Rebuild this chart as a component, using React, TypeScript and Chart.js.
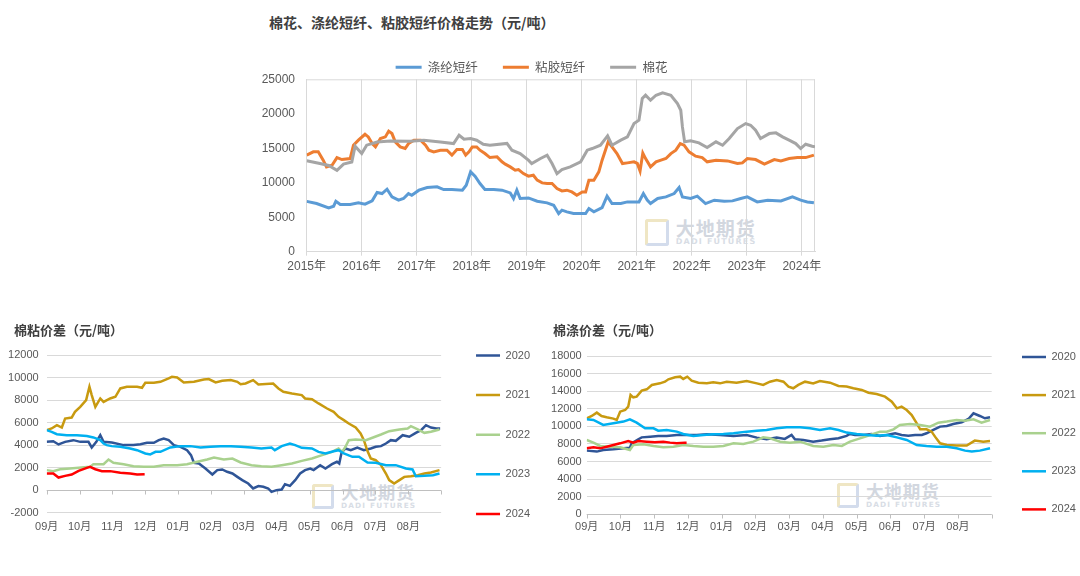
import React, { useEffect, useRef } from 'react';
import { Chart, registerables } from 'chart.js';

Chart.register(...registerables);
document.body.style.margin = '0';

const FONT = '"Liberation Sans", "Noto Sans CJK SC", sans-serif';
const CJK = '"Noto Sans CJK SC", "Liberation Sans", sans-serif';
const TICK = '#595959';
const GRID = '#D9D9D9';

// ---------- top chart data ----------
const topTitle = '棉花、涤纶短纤、粘胶短纤价格走势（元/吨）';
const topNames = ['涤纶短纤', '粘胶短纤', '棉花'];
const topColors = ['#5B9BD5', '#ED7D31', '#A5A5A5'];
const yearStart = 2015;
const yearEnd = 2024.24;

const polyester: [number, number][] = [
  [2015.0, 7300], [2015.18, 6980], [2015.4, 6360], [2015.49, 6600], [2015.53, 7320], [2015.61, 6840],
  [2015.79, 6840], [2015.94, 7080], [2016.06, 6890], [2016.19, 7370], [2016.28, 8580], [2016.37, 8430],
  [2016.46, 9060], [2016.55, 7950], [2016.67, 7470], [2016.76, 7710], [2016.85, 8430], [2016.91, 8190],
  [2017.04, 8920], [2017.19, 9300], [2017.37, 9400], [2017.49, 9010], [2017.64, 9010], [2017.83, 8920],
  [2017.9, 9640], [2017.98, 11580], [2018.06, 10950], [2018.15, 9890], [2018.24, 9010], [2018.4, 9010],
  [2018.55, 8920], [2018.7, 8530], [2018.76, 7710], [2018.82, 8920], [2018.88, 7710], [2019.03, 7800],
  [2019.19, 7320], [2019.37, 7080], [2019.49, 6740], [2019.58, 5530], [2019.64, 6020], [2019.73, 5780],
  [2019.85, 5530], [2019.98, 5530], [2020.07, 5530], [2020.13, 6260], [2020.22, 5780], [2020.37, 6400],
  [2020.46, 8050], [2020.55, 6980], [2020.71, 6980], [2020.83, 7220], [2020.95, 7220], [2021.04, 7220],
  [2021.12, 8430], [2021.19, 7500], [2021.25, 6980], [2021.38, 7710], [2021.53, 7950], [2021.68, 8430],
  [2021.77, 9300], [2021.83, 7950], [2021.98, 7710], [2022.1, 8050], [2022.25, 6980], [2022.41, 7470],
  [2022.59, 7320], [2022.74, 7370], [2022.89, 7710], [2023.01, 7950], [2023.19, 7220], [2023.38, 7470],
  [2023.62, 7370], [2023.83, 7950], [2023.98, 7470], [2024.1, 7220], [2024.22, 7100],
];

const viscose: [number, number][] = [
  [2015.0, 14000], [2015.12, 14480], [2015.21, 14480], [2015.3, 13270], [2015.36, 12300], [2015.46, 12540],
  [2015.55, 13650], [2015.64, 13360], [2015.79, 13510], [2015.85, 15450], [2015.94, 16170], [2016.06, 17030],
  [2016.12, 16650], [2016.19, 15680], [2016.25, 15200], [2016.34, 16410], [2016.43, 16650], [2016.49, 17480],
  [2016.55, 17130], [2016.61, 15930], [2016.7, 15200], [2016.79, 14960], [2016.85, 15680], [2016.95, 16170],
  [2017.07, 16170], [2017.16, 15440], [2017.22, 14720], [2017.31, 14480], [2017.43, 14720], [2017.55, 14720],
  [2017.64, 14000], [2017.73, 14820], [2017.83, 14820], [2017.89, 14000], [2017.95, 14480], [2018.01, 15200],
  [2018.09, 15200], [2018.15, 14720], [2018.24, 14230], [2018.33, 13650], [2018.46, 13750], [2018.55, 13030],
  [2018.61, 12690], [2018.7, 12300], [2018.79, 11820], [2018.85, 11910], [2018.94, 11330], [2019.03, 10950],
  [2019.12, 11090], [2019.19, 10370], [2019.28, 9980], [2019.37, 9890], [2019.46, 9890], [2019.55, 9160],
  [2019.64, 8820], [2019.73, 8920], [2019.82, 8670], [2019.91, 8190], [2020.01, 8670], [2020.07, 8670],
  [2020.13, 10370], [2020.22, 10370], [2020.31, 11580], [2020.37, 13270], [2020.43, 14720], [2020.48, 15930],
  [2020.55, 15200], [2020.64, 14230], [2020.74, 12780], [2020.83, 12880], [2020.95, 13030], [2021.01, 12800],
  [2021.06, 11700], [2021.11, 14300], [2021.16, 13500], [2021.25, 12300], [2021.35, 13030], [2021.44, 13270],
  [2021.53, 13510], [2021.62, 14230], [2021.71, 14720], [2021.79, 15680], [2021.86, 15440], [2021.95, 14480],
  [2022.07, 13850], [2022.19, 13650], [2022.28, 13030], [2022.44, 13270], [2022.65, 13170], [2022.83, 12780],
  [2022.92, 12880], [2023.01, 13510], [2023.16, 13360], [2023.32, 12690], [2023.5, 13360], [2023.62, 13170],
  [2023.77, 13510], [2023.92, 13650], [2024.07, 13650], [2024.22, 14000],
];

const cotton: [number, number][] = [
  [2015.0, 13200], [2015.24, 12780], [2015.4, 12500], [2015.55, 11800], [2015.67, 12700], [2015.82, 13000],
  [2015.88, 15300], [2016.0, 14230], [2016.09, 15450], [2016.28, 15900], [2016.52, 16070], [2016.88, 16020],
  [2017.13, 16170], [2017.43, 15900], [2017.67, 15680], [2017.77, 16890], [2017.86, 16310], [2017.98, 16400],
  [2018.09, 16170], [2018.21, 15590], [2018.33, 15440], [2018.64, 15700], [2018.73, 14720], [2018.88, 14230],
  [2019.03, 13270], [2019.09, 12780], [2019.25, 13510], [2019.37, 14000], [2019.46, 12780], [2019.55, 11330],
  [2019.64, 11900], [2019.79, 12300], [2019.98, 13030], [2020.1, 14720], [2020.19, 14960], [2020.34, 15440],
  [2020.47, 16800], [2020.55, 15440], [2020.71, 16170], [2020.83, 16650], [2020.95, 18580], [2021.04, 19070],
  [2021.1, 22210], [2021.16, 22690], [2021.25, 21970], [2021.35, 22690], [2021.47, 23030], [2021.62, 22690],
  [2021.74, 21480], [2021.8, 20510], [2021.83, 18100], [2021.87, 15930], [2021.98, 16070], [2022.13, 15780],
  [2022.28, 15100], [2022.44, 15930], [2022.56, 15440], [2022.68, 16410], [2022.83, 17860], [2022.98, 18580],
  [2023.07, 18340], [2023.16, 17620], [2023.25, 16410], [2023.41, 17130], [2023.53, 17230], [2023.65, 16650],
  [2023.77, 16170], [2023.89, 15680], [2023.98, 14960], [2024.07, 15590], [2024.19, 15300], [2024.24, 15200],
];

// ---------- bottom charts data (x = months since 1 Sep) ----------
const monthLabels = ['09月', '10月', '11月', '12月', '01月', '02月', '03月', '04月', '05月', '06月', '07月', '08月'];
const seasonNames = ['2020', '2021', '2022', '2023', '2024'];
const seasonColors = ['#2F5597', '#C89A10', '#A9D18E', '#00B0F0', '#FF0000'];

const cvTitle = '棉粘价差（元/吨）';
const cv2020: [number, number][] = [
  [0, 4290], [0.2, 4350], [0.36, 4060], [0.56, 4290], [0.81, 4440], [1.02, 4290], [1.27, 4290], [1.37, 3790],
  [1.51, 4290], [1.63, 4880], [1.73, 4290], [1.98, 4230], [2.34, 4000], [2.64, 4000], [2.85, 4080], [3.05, 4200],
  [3.26, 4200], [3.41, 4440], [3.56, 4590], [3.71, 4440], [3.87, 4000], [4.07, 3850], [4.27, 3550], [4.39, 3110],
  [4.48, 2430], [4.63, 2370], [4.83, 1920], [5.04, 1390], [5.19, 1780], [5.34, 1840], [5.49, 1630], [5.65, 1480],
  [5.8, 1180], [5.95, 890], [6.13, 590], [6.28, 150], [6.44, 360], [6.59, 300], [6.74, 150], [6.84, -150],
  [6.99, 0], [7.15, 60], [7.25, 530], [7.4, 380], [7.56, 890], [7.71, 1480], [7.86, 1780], [8.02, 1920],
  [8.12, 1780], [8.32, 2220], [8.48, 1920], [8.68, 2310], [8.83, 2520], [8.9, 2370], [8.97, 3320], [9.09, 3700],
  [9.25, 3550], [9.45, 3790], [9.65, 3550], [9.86, 3700], [10.01, 3850], [10.17, 3910], [10.32, 4140], [10.47, 4440],
  [10.62, 4380], [10.83, 4880], [11.03, 4740], [11.23, 5090], [11.39, 5330], [11.54, 5770], [11.69, 5560],
  [11.85, 5480], [11.97, 5480],
];
const cv2021: [number, number][] = [
  [0, 5330], [0.15, 5480], [0.31, 5770], [0.46, 5560], [0.56, 6360], [0.76, 6450], [0.86, 6960], [1.02, 7400],
  [1.2, 7990], [1.3, 9180], [1.37, 8440], [1.48, 7400], [1.63, 8140], [1.73, 7840], [1.93, 8140], [2.09, 8290],
  [2.24, 9030], [2.44, 9180], [2.75, 9180], [2.9, 9090], [3.0, 9530], [3.26, 9530], [3.46, 9620], [3.71, 9920],
  [3.81, 10060], [3.97, 10000], [4.17, 9560], [4.48, 9620], [4.78, 9830], [4.93, 9860], [5.14, 9560], [5.34, 9710],
  [5.6, 9770], [5.8, 9620], [5.9, 9410], [6.05, 9470], [6.28, 9770], [6.44, 9380], [6.89, 9470], [7.05, 9030],
  [7.2, 8730], [7.46, 8580], [7.76, 8440], [7.86, 8140], [8.07, 8080], [8.27, 7700], [8.53, 7250], [8.73, 6960],
  [8.88, 6510], [9.04, 6220], [9.19, 5920], [9.4, 5560], [9.55, 5030], [9.65, 4440], [9.75, 3550], [9.86, 2810],
  [10.01, 2660], [10.17, 2220], [10.32, 1480], [10.42, 890], [10.57, 590], [10.73, 890], [10.88, 1180],
  [11.08, 1240], [11.29, 1330], [11.49, 1480], [11.69, 1570], [11.95, 1780],
];
const cv2022: [number, number][] = [
  [0, 1780], [0.2, 1690], [0.41, 1860], [0.71, 1920], [0.97, 1980], [1.32, 2070], [1.42, 2310], [1.73, 2310],
  [1.88, 2720], [2.03, 2430], [2.34, 2310], [2.64, 2130], [2.95, 2070], [3.26, 2070], [3.56, 2220], [3.97, 2220],
  [4.27, 2310], [4.58, 2520], [4.88, 2720], [5.09, 2900], [5.39, 2720], [5.65, 2810], [5.9, 2460], [6.23, 2220],
  [6.53, 2130], [6.84, 2070], [7.15, 2220], [7.46, 2370], [7.76, 2600], [8.07, 2810], [8.38, 3110], [8.68, 3400],
  [8.88, 3700], [8.99, 3400], [9.09, 3850], [9.19, 4440], [9.4, 4500], [9.71, 4440], [9.91, 4650], [10.17, 4940],
  [10.42, 5240], [10.73, 5390], [10.98, 5480], [11.08, 5680], [11.29, 5390], [11.49, 5090], [11.69, 5180],
  [11.95, 5390],
];
const cv2023: [number, number][] = [
  [0, 5330], [0.15, 5180], [0.31, 4970], [0.61, 4880], [0.92, 4880], [1.22, 4800], [1.42, 4680], [1.63, 4440],
  [1.73, 4140], [1.83, 4000], [1.98, 3910], [2.24, 3850], [2.54, 3700], [2.75, 3550], [3.0, 3260], [3.15, 3170],
  [3.31, 3400], [3.46, 3400], [3.76, 3790], [4.07, 3910], [4.37, 3910], [4.68, 3790], [4.98, 3850], [5.29, 3910],
  [5.6, 3910], [5.9, 3850], [6.23, 3790], [6.53, 3700], [6.84, 3790], [6.94, 3550], [7.15, 3910], [7.4, 4140],
  [7.56, 4000], [7.76, 3760], [8.07, 3700], [8.27, 3400], [8.48, 3260], [8.73, 3460], [8.88, 3550], [9.04, 3260],
  [9.3, 2960], [9.5, 2960], [9.76, 2460], [10.01, 2430], [10.32, 2220], [10.62, 2220], [10.93, 1920],
  [11.13, 1840], [11.23, 1240], [11.49, 1270], [11.75, 1330], [11.95, 1480],
];
const cv2024: [number, number][] = [
  [0, 1480], [0.2, 1480], [0.36, 1120], [0.56, 1270], [0.76, 1390], [0.97, 1720], [1.22, 1980], [1.32, 2070],
  [1.48, 1860], [1.68, 1690], [1.93, 1690], [2.24, 1540], [2.54, 1480], [2.75, 1390], [2.98, 1420],
];

const cpTitle = '棉涤价差（元/吨）';
const cp2020: [number, number][] = [
  [0, 7240], [0.3, 7130], [0.49, 7310], [0.79, 7390], [1.09, 7500], [1.28, 7580], [1.33, 8070], [1.53, 8530],
  [1.63, 8750], [1.88, 8830], [2.12, 8910], [2.37, 8910], [2.67, 9020], [2.96, 9020], [3.26, 9020], [3.56, 9100],
  [3.95, 9020], [4.35, 8910], [4.74, 9020], [5.04, 8720], [5.33, 8530], [5.63, 8720], [5.87, 8570], [6.07, 9020],
  [6.17, 8530], [6.42, 8450], [6.71, 8260], [6.96, 8380], [7.21, 8530], [7.46, 8640], [7.7, 8910], [7.8, 9130],
  [7.95, 9020], [8.2, 9020], [8.44, 9130], [8.69, 8910], [8.89, 9020], [9.14, 9210], [9.33, 9020], [9.53, 8940],
  [9.73, 9020], [9.93, 9020], [10.07, 9210], [10.27, 9590], [10.47, 9970], [10.67, 10040], [10.86, 10270],
  [11.11, 10460], [11.31, 10840], [11.46, 11480], [11.65, 11180], [11.8, 10920], [11.95, 11030],
];
const cp2021: [number, number][] = [
  [0, 10920], [0.15, 11180], [0.3, 11560], [0.44, 11180], [0.59, 11030], [0.79, 10880], [0.89, 10730],
  [0.99, 11670], [1.14, 11860], [1.23, 12240], [1.3, 13570], [1.38, 13300], [1.48, 13380], [1.63, 14060],
  [1.78, 14210], [1.93, 14710], [2.17, 14890], [2.32, 15080], [2.42, 15350], [2.62, 15580], [2.77, 15650],
  [2.86, 15390], [2.98, 15650], [3.11, 15200], [3.31, 14970], [3.56, 14890], [3.75, 15010], [3.95, 14890],
  [4.15, 15080], [4.44, 14970], [4.74, 15160], [5.04, 14890], [5.23, 14710], [5.43, 15080], [5.63, 15270],
  [5.83, 15080], [5.98, 14520], [6.12, 14330], [6.27, 14710], [6.47, 15080], [6.71, 14890], [6.91, 15160],
  [7.21, 14970], [7.46, 14600], [7.7, 14520], [7.9, 14330], [8.15, 14140], [8.35, 13830], [8.59, 13680],
  [8.84, 13380], [9.04, 12810], [9.19, 12050], [9.33, 12240], [9.48, 11860], [9.63, 11290], [9.78, 10350],
  [9.88, 9660], [10.07, 9660], [10.22, 9400], [10.32, 8830], [10.47, 8070], [10.67, 7880], [10.96, 7810],
  [11.26, 7810], [11.5, 8380], [11.75, 8260], [11.95, 8340],
];
const cp2022: [number, number][] = [
  [0, 8450], [0.2, 8150], [0.4, 7770], [0.69, 7690], [0.99, 7620], [1.28, 7310], [1.38, 7880], [1.68, 7960],
  [1.98, 7770], [2.27, 7620], [2.57, 7690], [2.86, 7880], [3.16, 7770], [3.46, 7690], [3.75, 7690], [4.05, 7770],
  [4.35, 8070], [4.64, 7990], [4.94, 8260], [5.23, 8750], [5.43, 8640], [5.73, 8260], [6.02, 8150], [6.32, 8260],
  [6.71, 7770], [7.01, 7690], [7.31, 7880], [7.56, 7770], [7.8, 8260], [8.1, 8640], [8.4, 9020], [8.69, 9400],
  [8.89, 9400], [9.09, 9660], [9.28, 10160], [9.58, 10270], [9.88, 10160], [10.17, 9970], [10.42, 10420],
  [10.67, 10540], [10.96, 10730], [11.21, 10650], [11.46, 10800], [11.7, 10420], [11.95, 10730],
];
const cp2023: [number, number][] = [
  [0, 10800], [0.2, 10730], [0.49, 10160], [0.79, 10350], [1.09, 10540], [1.28, 10800], [1.48, 10420],
  [1.73, 9780], [1.98, 9780], [2.12, 9510], [2.37, 9590], [2.67, 9400], [2.86, 9130], [3.16, 8910], [3.46, 9020],
  [3.75, 9100], [4.05, 9130], [4.35, 9210], [4.74, 9400], [5.04, 9510], [5.33, 9590], [5.63, 9780], [5.93, 9890],
  [6.32, 9890], [6.62, 9780], [6.91, 9590], [7.21, 9780], [7.46, 9590], [7.7, 9290], [8.0, 9130], [8.3, 9020],
  [8.59, 8940], [8.89, 9020], [9.19, 8750], [9.48, 8450], [9.78, 7880], [10.07, 7770], [10.37, 7690],
  [10.67, 7690], [10.96, 7500], [11.21, 7240], [11.41, 7130], [11.65, 7240], [11.95, 7500],
];
const cp2024: [number, number][] = [
  [0, 7500], [0.2, 7620], [0.4, 7500], [0.59, 7690], [0.79, 7880], [0.99, 8070], [1.23, 8340], [1.38, 8150],
  [1.53, 8340], [1.78, 8260], [2.02, 8190], [2.27, 8260], [2.47, 8150], [2.67, 8070], [2.91, 8150], [2.96, 8150],
];

const watermarkCn = '大地期货';
const watermarkEn = 'DADI FUTURES';

// ---------- plugins ----------
const framePlugin = {
  id: 'frame',
  beforeDatasetsDraw(chart: any) {
    const { ctx, chartArea: a } = chart;
    ctx.save();
    ctx.strokeStyle = GRID;
    ctx.lineWidth = 1;
    ctx.beginPath();
    ctx.moveTo(a.left, a.top + 0.5);
    ctx.lineTo(a.right, a.top + 0.5);
    ctx.moveTo(a.right - 0.5, a.top);
    ctx.lineTo(a.right - 0.5, a.bottom);
    ctx.stroke();
    ctx.restore();
  },
};

const zeroAxisPlugin = {
  id: 'zeroAxis',
  beforeDatasetsDraw(chart: any) {
    const { ctx } = chart;
    const xs = chart.scales.x;
    const ys = chart.scales.y;
    const y0 = Math.round(ys.getPixelForValue(0)) + 0.5;
    ctx.save();
    ctx.strokeStyle = '#BFBFBF';
    ctx.lineWidth = 1;
    ctx.beginPath();
    ctx.moveTo(xs.left, y0);
    ctx.lineTo(xs.right, y0);
    for (let i = 0; i <= 12; i++) {
      const px = Math.round(xs.getPixelForValue(i)) + 0.5;
      ctx.moveTo(px, y0);
      ctx.lineTo(px, y0 + 4);
    }
    ctx.stroke();
    ctx.restore();
  },
};

// moves the start-aligned title to a given x without shrinking the y axis label area
function titleShiftPlugin(x: number) {
  return {
    id: 'titleShift',
    afterLayout(chart: any) {
      if (chart.titleBlock) chart.titleBlock.left = x;
    },
  };
}

// ---------- configs ----------
function topConfig() {
  const series = [polyester, viscose, cotton];
  return {
    type: 'line',
    data: {
      datasets: series.map((s, i) => ({
        label: topNames[i],
        data: s.map(([x, y]) => ({ x, y })),
        borderColor: topColors[i],
        backgroundColor: topColors[i],
        borderWidth: 3,
        pointRadius: 0,
        tension: 0,
        order: series.length - i,
      })),
    },
    options: {
      responsive: false,
      animation: false,
      layout: { padding: { left: 0, right: 0, top: 36, bottom: 0 } },
      plugins: {
        tooltip: { enabled: false },
        title: { display: false },
        legend: {
          position: 'top',
          align: 'center',
          maxHeight: 43.3,
          labels: {
            usePointStyle: true,
            pointStyle: 'line',
            pointStyleWidth: 26,
            padding: 25,
            color: TICK,
            font: { size: 12.5, family: CJK },
            sort: (a: any, b: any) => a.datasetIndex - b.datasetIndex,
          },
        },
      },
      scales: {
        x: {
          type: 'linear',
          min: yearStart,
          max: yearEnd,
          afterFit: (s: any) => { s.height = 38.3; },
          grid: { color: GRID, drawTicks: true, tickLength: 4 },
          border: { color: GRID },
          ticks: {
            stepSize: 1,
            includeBounds: false,
            autoSkip: false,
            maxRotation: 0,
            padding: 3.8,
            color: TICK,
            font: { size: 12, family: FONT },
            callback: (v: any) => `${v}年`,
          },
        },
        y: {
          min: 0,
          max: 25000,
          afterFit: (s: any) => { s.width = 73.7; },
          grid: { display: false, drawTicks: false },
          border: { display: true, color: GRID },
          ticks: {
            stepSize: 5000,
            padding: 11.7,
            color: TICK,
            font: { size: 12, family: FONT },
            callback: (v: any) => String(v),
          },
        },
        yR: {
          position: 'right',
          grid: { display: false, drawTicks: false },
          border: { display: false },
          ticks: { display: false },
          afterFit: (s: any) => { s.width = 15; },
        },
      },
    },
    plugins: [framePlugin],
  };
}

function spreadConfig(p: {
  title: string; titleX: number; series: [number, number][][]; yMin: number; yMax: number; yStep: number;
  yw: number; tTop: number; tBot: number; legP: number; legW: number;
  gap: number; hx: number; xPad: number; yPad: number;
}) {
  return () => ({
    type: 'line',
    data: {
      datasets: p.series.map((s, i) => ({
        label: seasonNames[i],
        data: s.map(([x, y]) => ({ x, y })),
        borderColor: seasonColors[i],
        backgroundColor: seasonColors[i],
        borderWidth: 2.5,
        pointRadius: 0,
        tension: 0,
        order: p.series.length - i,
      })),
    },
    options: {
      responsive: false,
      animation: false,
      layout: { padding: { left: 0, right: 0, top: 0, bottom: 0 } },
      plugins: {
        tooltip: { enabled: false },
        title: {
          display: true,
          text: p.title,
          align: 'start',
          color: '#404040',
          font: { size: 13, weight: 'bold', family: CJK, lineHeight: 1.2 },
          padding: { top: p.tTop, bottom: p.tBot },
        },
        legend: {
          position: 'right',
          align: 'end',
          maxWidth: p.legW,
          labels: {
            usePointStyle: true,
            pointStyle: 'line',
            pointStyleWidth: 24,
            padding: p.legP,
            color: TICK,
            font: { size: 11, family: FONT },
            sort: (a: any, b: any) => a.datasetIndex - b.datasetIndex,
          },
        },
      },
      scales: {
        x: {
          type: 'linear',
          min: 0,
          max: 12,
          afterFit: (s: any) => { s.height = p.hx; },
          grid: { display: false, drawTicks: false },
          border: { display: false },
          ticks: {
            stepSize: 1,
            autoSkip: false,
            maxRotation: 0,
            padding: p.xPad,
            color: TICK,
            font: { size: 11, family: FONT },
            callback: (v: any) => monthLabels[v] ?? '',
          },
        },
        y: {
          min: p.yMin,
          max: p.yMax,
          afterFit: (s: any) => { s.width = p.yw; },
          grid: { color: GRID, drawTicks: false },
          border: { display: false },
          ticks: {
            stepSize: p.yStep,
            padding: p.yPad,
            color: TICK,
            font: { size: 11, family: FONT },
            callback: (v: any) => String(v),
          },
        },
        yR: {
          position: 'right',
          grid: { display: false, drawTicks: false },
          border: { display: false },
          ticks: { display: false },
          afterFit: (s: any) => { s.width = p.gap; },
        },
      },
    },
    plugins: [zeroAxisPlugin, titleShiftPlugin(p.titleX)],
  });
}

const cvConfig = spreadConfig({
  title: cvTitle, titleX: 14, series: [cv2020, cv2021, cv2022, cv2023, cv2024], yMin: -2000, yMax: 12000, yStep: 2000,
  yw: 46.7, tTop: 12.2, tBot: 17.2, legP: 28.6, legW: 95.9, gap: 6.3, hx: 35.3, xPad: 7.7, yPad: 8,
});
const cpConfig = spreadConfig({
  title: cpTitle, titleX: 13, series: [cp2020, cp2021, cp2022, cp2023, cp2024], yMin: 0, yMax: 18000, yStep: 2000,
  yw: 46.7, tTop: 12.2, tBot: 18.2, legP: 27.1, legW: 85.1, gap: 3.2, hx: 27.7, xPad: 6.1, yPad: 5,
});

// ---------- components ----------
function ChartBox({ left, top, width, height, make }: {
  left: number; top: number; width: number; height: number; make: () => any;
}) {
  const ref = useRef<HTMLCanvasElement | null>(null);
  useEffect(() => {
    if (!ref.current) return;
    const chart = new Chart(ref.current, make());
    return () => chart.destroy();
  }, []);
  return (
    <canvas
      ref={ref}
      width={width}
      height={height}
      style={{ position: 'absolute', left, top, width, height }}
    />
  );
}

function Watermark({ left, top, cnSize }: { left: number; top: number; cnSize: number }) {
  return (
    <div style={{ position: 'absolute', left, top, display: 'flex', alignItems: 'center', pointerEvents: 'none' }}>
      <div
        style={{
          width: cnSize * 1.25,
          height: cnSize * 1.4,
          boxSizing: 'border-box',
          border: '3px solid',
          borderColor: '#EFE6C4 #D3DCEC #D3DCEC #EFE6C4',
          borderRadius: 3,
        }}
      />
      <div style={{ marginLeft: 7 }}>
        <div style={{ fontFamily: CJK, fontWeight: 700, fontSize: cnSize, lineHeight: 1, color: '#D2D7DF', letterSpacing: 1 }}>
          {watermarkCn}
        </div>
        <div style={{ fontFamily: '"DejaVu Sans", sans-serif', fontWeight: 700, fontSize: cnSize * 0.42, lineHeight: 1.3, color: '#D8DDE5', letterSpacing: 1.2 }}>
          {watermarkEn}
        </div>
      </div>
    </div>
  );
}

export default function App() {
  return (
    <div style={{ position: 'relative', width: 1080, height: 576, background: '#fff', overflow: 'hidden' }}>
      <Watermark left={645} top={218} cnSize={19} />
      <Watermark left={312} top={483} cnSize={17.5} />
      <Watermark left={837} top={482} cnSize={17.5} />
      <div
        style={{
          position: 'absolute', left: 269, top: 10, fontFamily: CJK, fontWeight: 700, fontSize: 14,
          lineHeight: '24px', color: '#404040', whiteSpace: 'nowrap',
        }}
      >
        {topTitle}
      </div>
      <ChartBox left={233} top={0} width={597} height={290} make={topConfig} />
      <ChartBox left={0} top={310} width={540} height={238} make={cvConfig} />
      <ChartBox left={540} top={310} width={540} height={232} make={cpConfig} />
    </div>
  );
}
